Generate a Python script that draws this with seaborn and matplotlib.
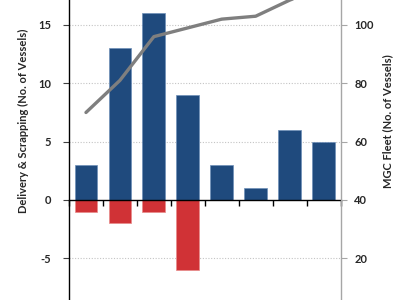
import matplotlib
matplotlib.use("Agg")
import matplotlib.pyplot as plt
import seaborn as sns
import pandas as pd

years = ["2014", "2015", "2016", "2017", "2018", "2019", "2020", "2021"]
delivery = [3, 13, 16, 9, 3, 1, 6, 5]
scrapping = [-1, -2, -1, -6, 0, 0, 0, 0]
fleet = [70, 81, 96, 99, 102, 103, 108.5, 113]

sns.set_theme(style="white")
plt.rcParams['font.family'] = ['Lato', 'DejaVu Sans']

df = pd.DataFrame({"year": years, "delivery": delivery, "scrapping": scrapping,
                   "fleet": fleet, "pos": range(len(years))})

fig = plt.figure(figsize=(4, 3), dpi=100)
ax = fig.add_axes([69 / 400, 0, (340.5 - 69) / 400, 1])

blue = "#1F4A7D"
red = "#D03236"
sns.barplot(data=df, x="year", y="delivery", color=blue, width=0.67, ax=ax,
            edgecolor="#6E8FB8", linewidth=0.5, saturation=1)
sns.barplot(data=df, x="year", y="scrapping", color=red, width=0.67, ax=ax,
            edgecolor="#E88A8A", linewidth=0.5, saturation=1)

ax.set_xlim(-0.5, len(years) - 0.5)
ax.set_ylim(-8.57, 17.14)
ax.set_yticks([-5, 0, 5, 10, 15])
ax.set_yticklabels(["-5", "0", "5", "10", "15"])
for y in [-5, 5, 10, 15]:
    ax.axhline(y, color="#C4C4C4", lw=0.8, ls=(0, (1, 1.5)), zorder=0)

ax.spines['bottom'].set_position(('data', 0))
ax.spines['bottom'].set_color("black")
ax.spines['bottom'].set_linewidth(1.0)
ax.spines['top'].set_visible(False)
ax.spines['right'].set_visible(False)
ax.spines['left'].set_color("black")
ax.spines['left'].set_linewidth(1.0)
ax.set_xticks([i + 0.5 for i in range(-1, len(years))])
ax.set_xticklabels([])
ax.tick_params(axis='x', direction='out', length=4, width=1, color="black", bottom=True)
ax.tick_params(axis='y', direction='out', length=4, width=0.8, color="#404040",
               left=True, pad=9, labelsize=8)
for t in ax.get_yticklabels():
    t.set_fontweight("bold")
ax.set_xlabel("")
ax.set_ylabel("Delivery & Scrapping (No. of Vessels)", fontsize=8, fontweight="bold")
ax.yaxis.set_label_coords(-0.147, 0.597)

ax2 = ax.twinx()
sns.lineplot(data=df, x="pos", y="fleet", color="#7F7F7F", lw=2.4, ax=ax2)
ax2.set_ylim(40 + 4 * -8.57, 40 + 4 * 17.14)
ax2.set_yticks([20, 40, 60, 80, 100])
ax2.set_yticklabels(["20", "40", "60", "80", "100"])
ax2.set_xlim(-0.5, len(years) - 0.5)
for s in ['top', 'bottom', 'left']:
    ax2.spines[s].set_visible(False)
ax2.spines['right'].set_color("#A6A6A6")
ax2.spines['right'].set_linewidth(1.0)
ax2.tick_params(axis='y', direction='out', length=4, width=0.8, color="#A6A6A6",
                right=True, pad=6, labelsize=8)
for t in ax2.get_yticklabels():
    t.set_fontweight("bold")
ax2.set_ylabel("MGC Fleet (No. of Vessels)", fontsize=8, fontweight="bold")
ax2.yaxis.set_label_coords(1.153, 0.597)
ax2.set_xlabel("")

fig.savefig("out.png", dpi=100)
